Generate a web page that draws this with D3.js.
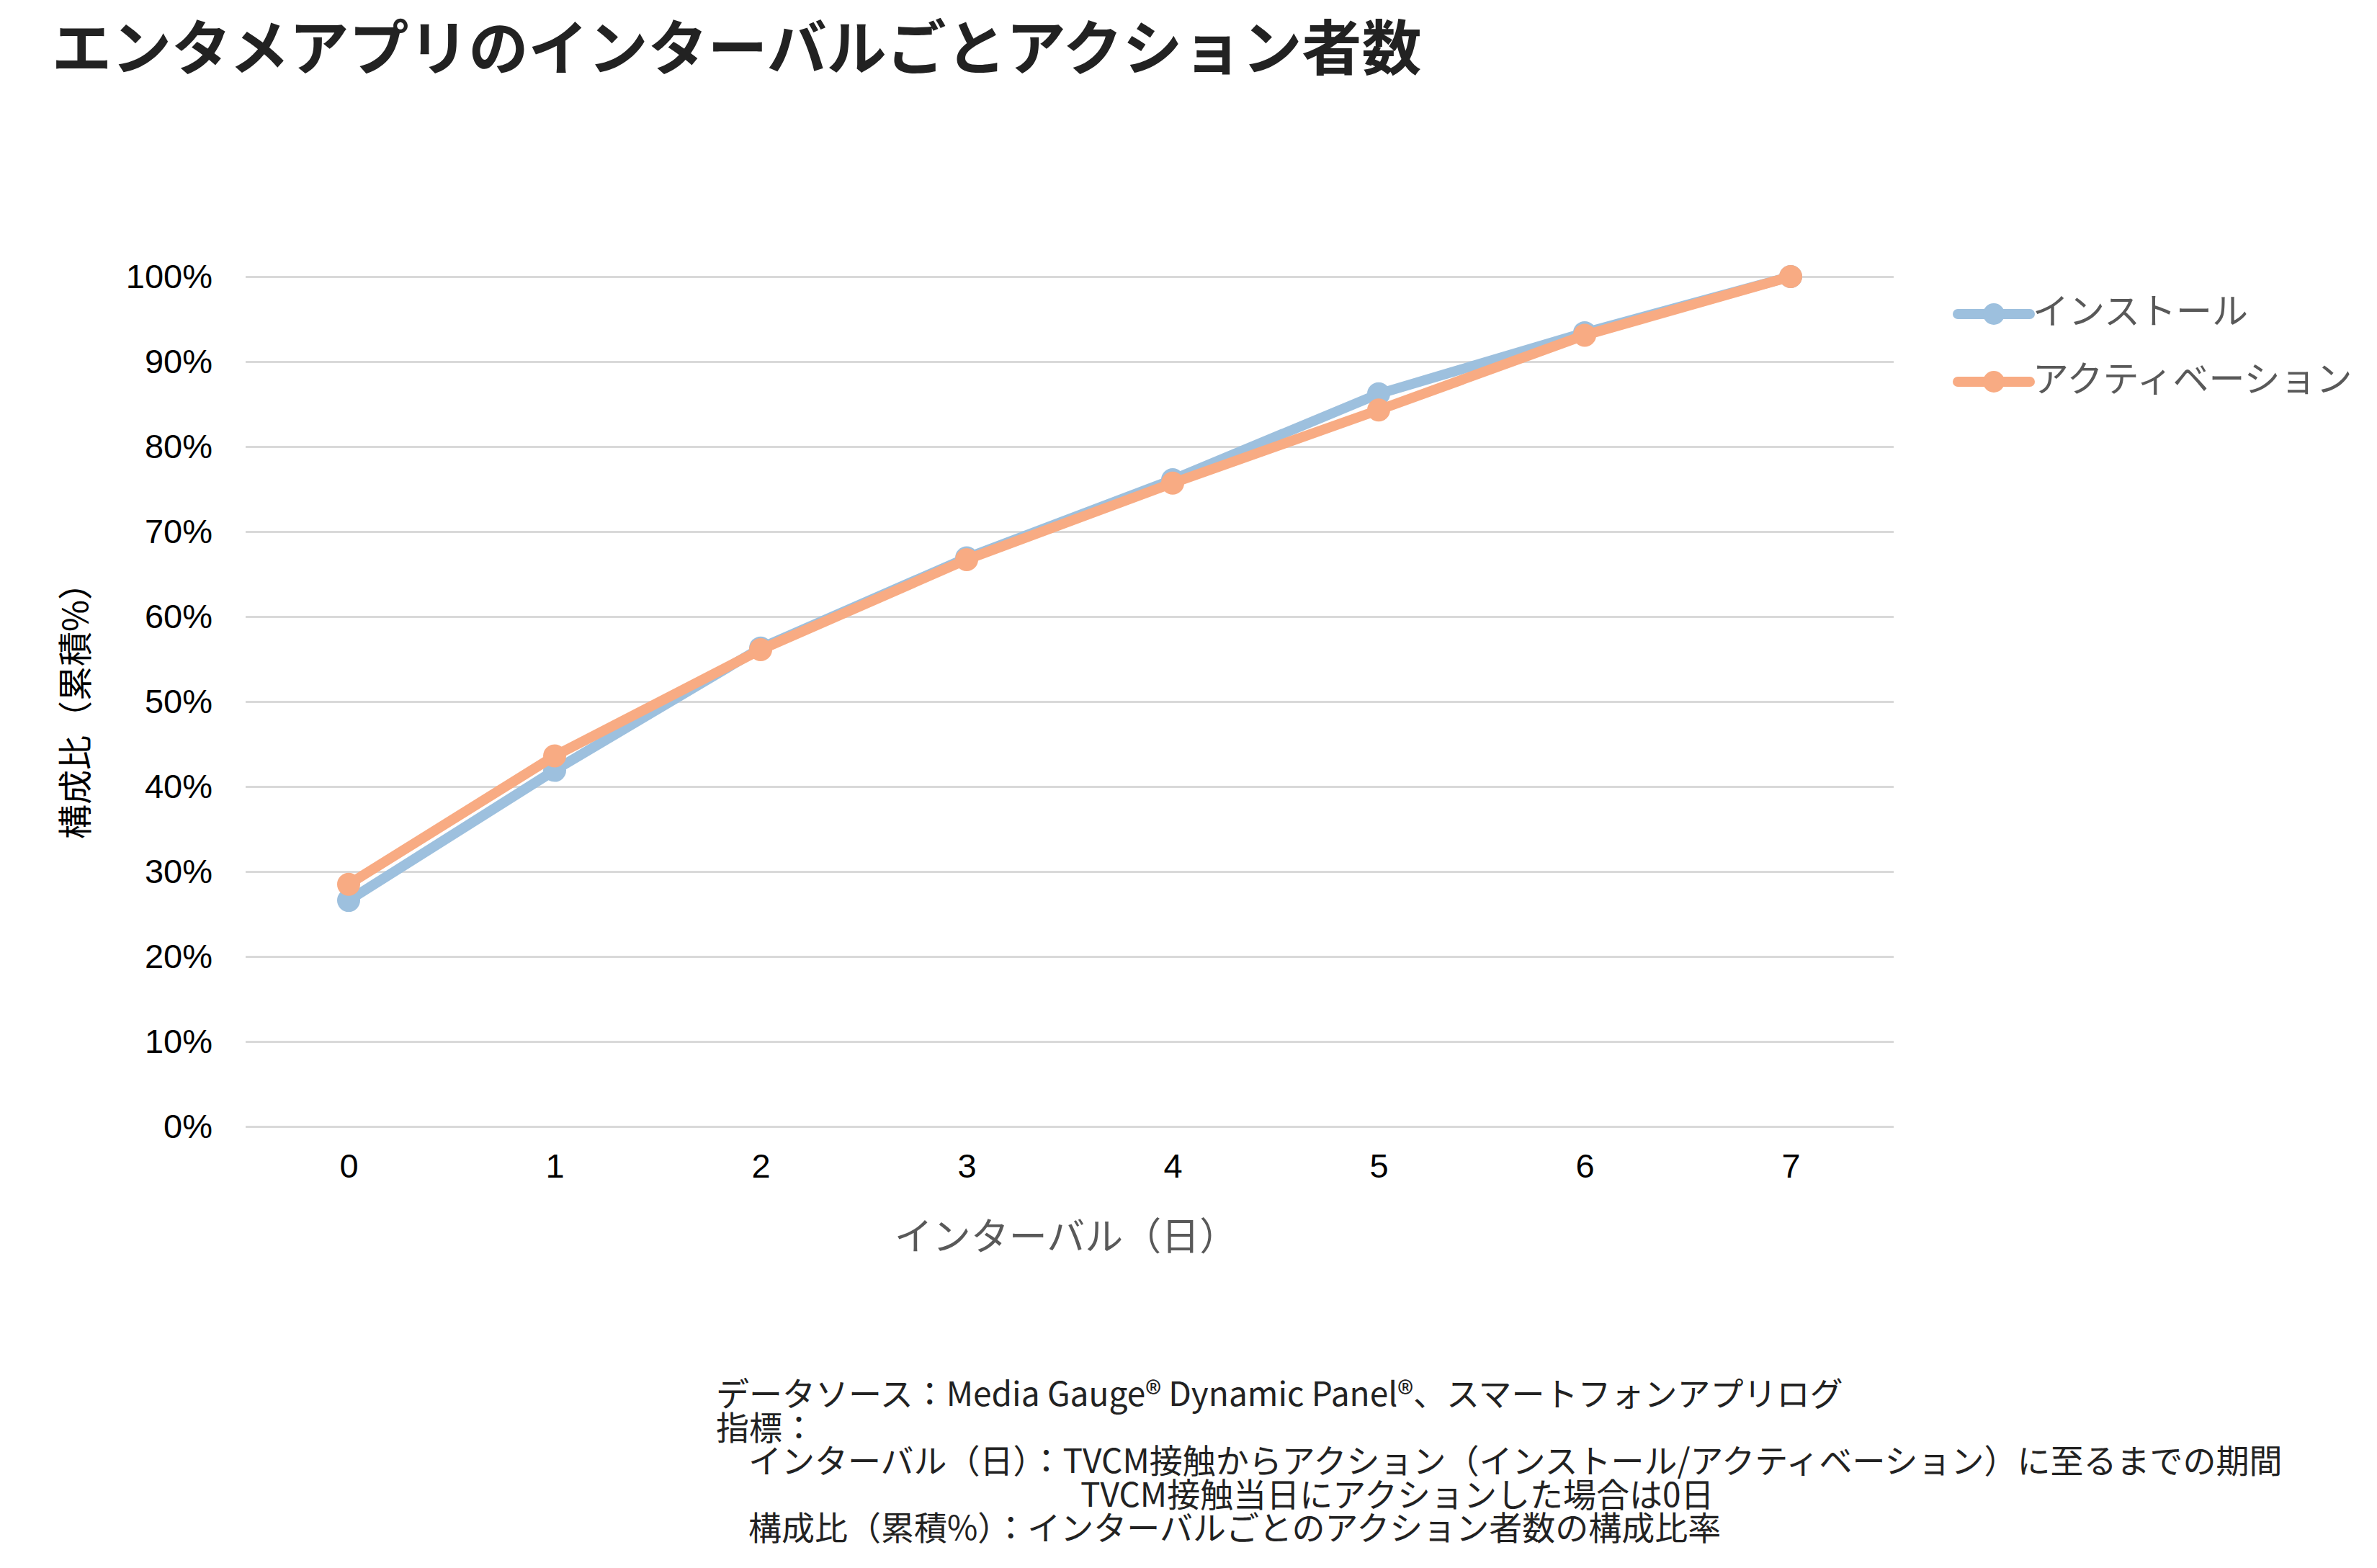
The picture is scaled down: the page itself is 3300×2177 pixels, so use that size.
<!DOCTYPE html>
<html lang="ja">
<head>
<meta charset="utf-8">
<script src="https://cdn.jsdelivr.net/npm/d3@7"></script>
<style>
  body { margin: 0; background: #fff; }
  svg { display: block; }
  .jp { font-family: "Noto Sans CJK JP", "Noto Sans", sans-serif; }
  .num { font-family: "Liberation Sans", Arial, sans-serif; }
</style>
</head>
<body>
<svg id="chart"></svg>
<script>
// --- Dados ---
const intervals = ["0", "1", "2", "3", "4", "5", "6", "7"];
const installValues = [26.6, 41.9, 56.3, 66.9, 76.1, 86.2, 93.4, 100];
const activationValues = [28.5, 43.6, 56.1, 66.7, 75.7, 84.3, 93.1, 100];
const yTicks = [0, 10, 20, 30, 40, 50, 60, 70, 80, 90, 100];
const seriesNames = ["インストール", "アクティベーション"];
const seriesColors = ["#9dc0de", "#f8ab83"];

const titleText = "エンタメアプリのインターバルごとアクション者数";
const yTitle = "構成比（累積%）";
const xTitle = "インターバル（日）";
const notes = [
  "データソース：Media Gauge® Dynamic Panel®、スマートフォンアプリログ",
  "指標：",
  "インターバル（日）：TVCM接触からアクション（インストール/アクティベーション）に至るまでの期間",
  "TVCM接触当日にアクションした場合は0日",
  "構成比（累積%）：インターバルごとのアクション者数の構成比率"
];

// --- Configurações ---
const W = 3300, H = 2177;
const plot = { left: 341, right: 2629, top: 384, bottom: 1564 };

const svg = d3.select("#chart").attr("width", W).attr("height", H);

// Escalas
const x = d3.scalePoint().domain(intervals).range([plot.left, plot.right]).padding(0.5);
const y = d3.scaleLinear().domain([0, 100]).range([plot.bottom, plot.top]);

// Título
svg.append("text")
    .attr("class", "jp")
    .attr("x", 72).attr("y", 97)
    .attr("font-size", 83).attr("font-weight", 700)
    .attr("fill", "#222")
    .text(titleText);

// Linhas de grade + rótulos do eixo Y
const yAxis = svg.append("g")
    .attr("transform", `translate(${plot.left},0)`)
    .call(d3.axisLeft(y).tickValues(yTicks).tickSize(-(plot.right - plot.left)).tickPadding(46).tickFormat(d => d + "%"));
yAxis.select(".domain").remove();
yAxis.selectAll(".tick line").attr("stroke", "#d9d9d9").attr("stroke-width", 3);
yAxis.selectAll(".tick text")
    .attr("class", "num")
    .attr("font-size", 47).attr("fill", "#000");

// Eixo X (só rótulos)
const xAxis = svg.append("g")
    .attr("transform", `translate(0,${plot.bottom})`)
    .call(d3.axisBottom(x).tickSize(0).tickPadding(38));
xAxis.select(".domain").remove();
xAxis.selectAll(".tick text")
    .attr("class", "num")
    .attr("font-size", 47).attr("fill", "#000");

// Títulos dos eixos
svg.append("text")
    .attr("class", "jp")
    .attr("transform", "translate(101,975) rotate(-90)")
    .attr("text-anchor", "middle").attr("dominant-baseline", "central")
    .attr("font-size", 48).attr("fill", "#000")
    .text(yTitle);

svg.append("text")
    .attr("class", "jp")
    .attr("x", 1480).attr("y", 1713)
    .attr("text-anchor", "middle").attr("dominant-baseline", "central")
    .attr("font-size", 53).attr("fill", "#595959")
    .text(xTitle);

// Séries
const series = [installValues, activationValues].map((vals, i) => ({
  name: seriesNames[i],
  color: seriesColors[i],
  points: intervals.map((k, j) => ({ k, v: vals[j] }))
}));

const line = d3.line().x(d => x(d.k)).y(d => y(d.v));

series.forEach(s => {
  const g = svg.append("g");
  g.append("path")
      .datum(s.points)
      .attr("d", line)
      .attr("fill", "none")
      .attr("stroke", s.color)
      .attr("stroke-width", 14)
      .attr("stroke-linejoin", "round");
  g.selectAll("circle")
      .data(s.points)
      .enter()
      .append("circle")
      .attr("cx", d => x(d.k))
      .attr("cy", d => y(d.v))
      .attr("r", 16)
      .attr("fill", s.color);
});

// Legenda
const legend = svg.selectAll(".legend-item")
    .data(series)
    .enter()
    .append("g")
    .attr("class", "legend-item")
    .attr("transform", (d, i) => `translate(2718, ${436 + i * 94})`);

legend.append("line")
    .attr("x1", 0).attr("x2", 100)
    .attr("stroke", d => d.color)
    .attr("stroke-width", 14)
    .attr("stroke-linecap", "round");

legend.append("circle")
    .attr("cx", 50).attr("r", 15)
    .attr("fill", d => d.color);

legend.append("text")
    .attr("class", "jp")
    .attr("x", 104).attr("y", -8)
    .attr("dominant-baseline", "central")
    .attr("font-size", 50).attr("fill", "#595959")
    .text(d => d.name);

// Notas de rodapé
const noteX = [994, 994, 1039, 1500, 1039];
svg.append("g")
    .selectAll("text")
    .data(notes)
    .enter()
    .append("text")
    .attr("class", "jp")
    .attr("x", (d, i) => noteX[i])
    .attr("y", (d, i) => 1932 + i * 46.5)
    .attr("dominant-baseline", "central")
    .attr("font-size", 46).attr("fill", "#222")
    .text(d => d);
</script>
</body>
</html>
